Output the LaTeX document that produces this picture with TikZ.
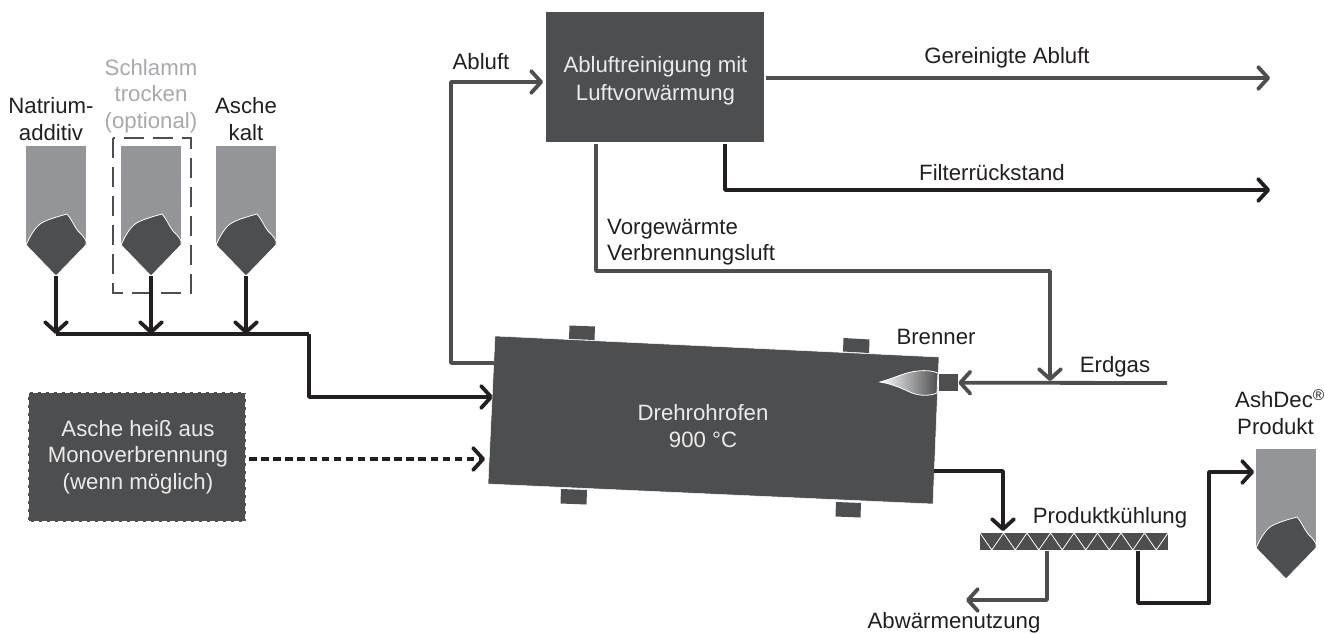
\documentclass[tikz,border=0pt]{standalone}
\usepackage{fontspec}
\setmainfont{Liberation Sans}
\usetikzlibrary{arrows.meta}
\definecolor{dk}{HTML}{4D4E50}
\definecolor{bk}{HTML}{231F20}
\definecolor{hop}{HTML}{939598}
\definecolor{opt}{HTML}{A7A9AC}
\tikzset{
  lbl/.style={font=\fontsize{22.2}{26.5}\selectfont,text=bk,align=center,inner sep=0pt},
  wlbl/.style={lbl,text=white!92!black},
  blackflow/.style={draw=bk,line width=3.8pt,line join=round,-{Straight Barb[length=10pt,width=22pt,line cap=round,round]}},
  grayflow/.style={blackflow,draw=dk},
  plainblack/.style={draw=bk,line width=3.8pt,line join=round},
  pad/.style={fill=dk,draw=none},
  hopbody/.style={fill=hop,draw=none},
  hopcore/.style={fill=dk,draw=white,line width=0.8pt,line join=round},
}
\newcommand{\hopper}[3]{%
  \begin{scope}[shift={(#1,#2)}]
    \fill[hopbody] (0,0) rectangle (60,97);
    \path[hopcore] (1,97) .. controls (5,88) and (10,81) .. (14,78)
      .. controls (20,74) and (30,71) .. (41,68) .. controls (45,72) and (48,80) .. (52,85)
      .. controls (56,89) and (59,92) .. (60,95) -- (60,99) -- (30,130) -- (0,99) -- cycle;
    \coordinate (#3) at (30,130);
  \end{scope}}
\begin{document}
\begin{tikzpicture}[x=1pt,y=-1pt]
\useasboundingbox (0,0) rectangle (1325,634);
% hoppers
\hopper{26}{146}{tipA}
\hopper{121}{146}{tipB}
\hopper{216}{146}{tipC}
\hopper{1256}{449}{tipD}
% optional frame
\draw[dk,line width=1.2pt,dash pattern=on 20pt off 9pt] (113,138) rectangle (191,293);
% collector
\coordinate (busA) at (56,334);
\coordinate (busB) at (151,334);
\coordinate (busC) at (246,334);
\coordinate (busEnd) at (309,334);
\coordinate (kilnIn) at (493,397);
\coordinate (hotIn) at (485,459);
\draw[blackflow] (tipA) -- (busA);
\draw[blackflow] (tipB) -- (busB);
\draw[blackflow] (tipC) -- (busC);
\draw[plainblack] (busA) -- (busEnd);
\draw[blackflow] (busEnd) |- (kilnIn);
% hot ash box
\node[fill=dk,minimum width=218pt,minimum height=130pt,inner sep=0pt,anchor=north west] (hot) at (28,392) {};
\draw[white,line width=2.4pt,dash pattern=on 5pt off 3pt] (hot.north west) rectangle (hot.south east);
\node[wlbl] (hottext) at (138,457) {Asche heiß aus\\Monoverbrennung\\(wenn möglich)};
\coordinate (hotOut) at (249,459);
\draw[blackflow,dash pattern=on 7.5pt off 4.6pt] (hotOut) -- (hotIn);
% kiln
\coordinate (kTL) at (495,336);
\coordinate (kTR) at (939,357);
\coordinate (kBR) at (933,504);
\coordinate (kBL) at (488,484);
\path[pad] (569.5,325.5) -- (595,326.5) -- (594.5,340) -- (569,339) -- cycle;
\path[pad] (843.5,338) -- (869.5,339.5) -- (869,353) -- (843,351.5) -- cycle;
\path[pad] (561,489) -- (587,490) -- (586.5,504.5) -- (560.5,503.5) -- cycle;
\path[pad] (836,502) -- (861,503) -- (860.5,517.5) -- (835.5,516.5) -- cycle;
\path[fill=dk,draw=white,line width=0.5pt] (kTL) -- (kTR) -- (kBR) -- (kBL) -- cycle;
\node[wlbl] (kilntext) at (703,426) {Drehrohrofen\\900 °C};
% flame
\path[left color=white,right color=dk,draw=white,line width=0.8pt]
  (880,382) .. controls (895,378) and (905,372) .. (918,371)
  .. controls (926,370) and (933,371) .. (938,373)
  -- (937,393) .. controls (930,396) and (920,396) .. (912,393)
  .. controls (903,389) and (893,384) .. (880,382) -- cycle;
\node[fill=dk,inner sep=0pt,minimum width=19pt,minimum height=17pt,anchor=north west] (burner) at (939,374) {};
% upper box
\node[fill=dk,minimum width=218pt,minimum height=130pt,inner sep=0pt,anchor=north west] (clean) at (546,12) {};
\node[wlbl] (cleantext) at (655.5,81) {Abluftreinigung mit\\[1pt]Luftvorwärmung};
% exhaust
\coordinate (ablOut) at (494,363);
\coordinate (ablMid) at (451,82);
\coordinate (ablIn) at (543,82);
\draw[grayflow] (ablOut) -- (451,363) -- (ablMid) -- (ablIn);
\coordinate (gerOut) at (766,78);
\coordinate (gerEnd) at (1270,78);
\draw[grayflow,draw=dk] (gerOut) -- (gerEnd);
\coordinate (filOut) at (725,144);
\coordinate (filEnd) at (1270,190);
\draw[blackflow] (filOut) |- (filEnd);
\coordinate (airOut) at (596,144);
\coordinate (airMid) at (596,271);
\coordinate (gasJoin) at (1050,381);
\draw[grayflow] (airOut) -- (airMid) -| (gasJoin);
\coordinate (gasStart) at (1167,383);
\draw[grayflow] (gasStart) -- (burner.east);
% output
\coordinate (prodOut) at (934,471);
\coordinate (coolIn) at (1003,531);
\draw[blackflow] (prodOut) -| (coolIn);
% cooler
\node[fill=dk,inner sep=0pt,minimum width=188pt,minimum height=17pt,anchor=north west] (cooler) at (980,533) {};
\draw[white,line width=0.8pt,line join=miter]
  (980,533) \foreach \i in {0,...,7} { -- ({980+23.5*\i+11.75},550) -- ({980+23.5*\i+23.5},533) };
\coordinate (wasteOut) at (1047,551);
\coordinate (wasteEnd) at (966,600);
\draw[grayflow] (wasteOut) |- (wasteEnd);
\coordinate (coolOut) at (1138,551);
\coordinate (riseBot) at (1209,603);
\coordinate (hopIn) at (1254,472);
\draw[blackflow] (coolOut) |- (riseBot) |- (hopIn);
% labels
\node[lbl] (t1) at (51,119) {Natrium-\\additiv};
\node[lbl,text=opt] (t2) at (151,96) {Schlamm\\trocken\\(optional)};
\node[lbl] (t3) at (246,119) {Asche\\kalt};
\node[lbl] (t4) at (481,62) {Abluft};
\node[lbl] (t5) at (1007,58) {Gereinigte Abluft};
\node[lbl] (t6) at (992,173) {Filterrückstand};
\node[lbl,align=left,anchor=west] (t7) at (607,242) {Vorgewärmte\\Verbrennungsluft};
\node[lbl] (t8) at (936,337) {Brenner};
\node[lbl] (t9) at (1115,367) {Erdgas};
\node[lbl] (t10) at (1110,518) {Produktkühlung};
\node[lbl] (t11) at (954,623) {Abwärmenutzung};
\node[lbl,align=left,anchor=west] (t12) at (1235,412) {AshDec\textsuperscript{®}\\\hspace{2pt}Produkt};
\end{tikzpicture}
\end{document}
